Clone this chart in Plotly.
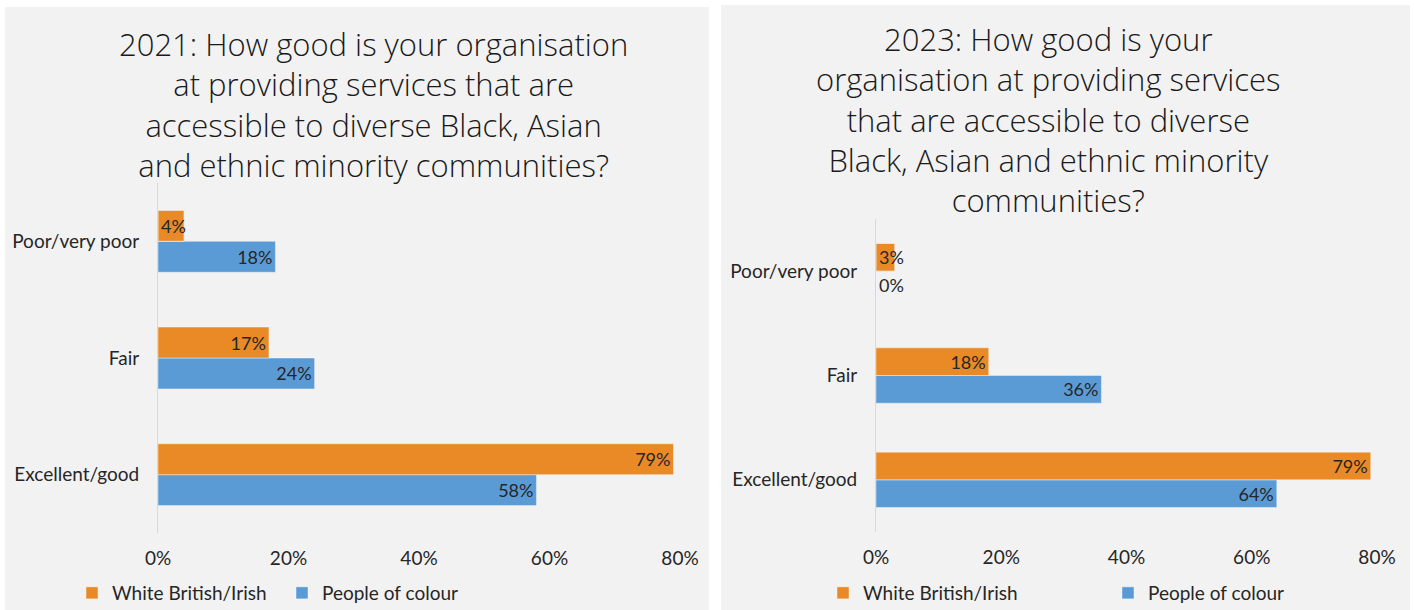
import plotly.graph_objects as go

# Response categories, bottom to top on the axis
categories = ["Excellent/good", "Fair", "Poor/very poor"]
tick_vals = [0, 20, 40, 60, 80]
tick_text = ["0%", "20%", "40%", "60%", "80%"]

# Survey results (% of respondents)
white_2021 = [79, 17, 4]
colour_2021 = [58, 24, 18]
white_2023 = [79, 18, 3]
colour_2023 = [64, 36, 0]

series_names = ["White British/Irish", "People of colour"]

title_2021 = ["2021: How good is your organisation",
              "at providing services that are",
              "accessible to diverse Black, Asian",
              "and ethnic minority communities?"]
title_2023 = ["2023: How good is your",
              "organisation at providing services",
              "that are accessible to diverse",
              "Black, Asian and ethnic minority",
              "communities?"]

W, H = 1414, 610
ORANGE = "#E98A26"
BLUE = "#5B9BD5"
PANEL = "#F2F2F2"
TXT = "#262626"
FONT = "Lato"
TITLE_FONT = "Open Sans"
SMALL = 10  # bars narrower than this get their label anchored at the bar start


def px(x):
    return x / W


def py(y):
    return (H - y) / H


fig = go.Figure()


def add_series(values, name, color, group, xaxis, yaxis, legend, rank):
    labels = [f"{v}%" for v in values]
    # main bars, labels at the inside end
    pos = ["inside" if v >= SMALL else "none" for v in values]
    fig.add_trace(go.Bar(
        x=values, y=categories, orientation="h", name=name,
        marker=dict(color=color, line=dict(color="rgba(255,255,255,0.5)", width=0.8)),
        text=labels, textposition=pos, insidetextanchor="end", textangle=0,
        textfont=dict(family=FONT, size=18, color=TXT), constraintext="none",
        offsetgroup=group, xaxis=xaxis, yaxis=yaxis, legend=legend,
        legendrank=rank, hoverinfo="skip", cliponaxis=False,
    ))
    # labels for the short bars, anchored at the bar start
    small_x = [v for v in values if v < SMALL]
    small_y = [c for v, c in zip(values, categories) if v < SMALL]
    if small_x:
        fig.add_trace(go.Bar(
            x=small_x, y=small_y, orientation="h", showlegend=False,
            marker=dict(color="rgba(0,0,0,0)"),
            text=[f"{v}%" for v in small_x],
            textposition=["outside" if v == 0 else "inside" for v in small_x],
            insidetextanchor="start", constraintext="none", textangle=0,
            textfont=dict(family=FONT, size=18, color=TXT),
            offsetgroup=group, xaxis=xaxis, yaxis=yaxis, hoverinfo="skip",
            cliponaxis=False,
        ))


add_series(colour_2021, series_names[1], BLUE, "a_colour", "x", "y", "legend", 2)
add_series(white_2021, series_names[0], ORANGE, "b_white", "x", "y", "legend", 1)
add_series(colour_2023, series_names[1], BLUE, "a_colour", "x2", "y2", "legend2", 2)
add_series(white_2023, series_names[0], ORANGE, "b_white", "x2", "y2", "legend2", 1)

xa = dict(range=[0, 80], tickvals=tick_vals, ticktext=tick_text, showgrid=False,
          zeroline=False, showline=False, ticks="", fixedrange=True, automargin=False,
          ticklabelstandoff=12, tickfont=dict(family=FONT, size=19, color=TXT))
ya = dict(categoryorder="array", categoryarray=categories, showgrid=False,
          showline=True, linecolor="#D9D9D9", linewidth=1, ticks="", automargin=False,
          ticklabelstandoff=14, tickfont=dict(family=FONT, size=19, color=TXT))

leg = dict(orientation="h", xanchor="left", yanchor="middle", y=py(593),
           bgcolor="rgba(0,0,0,0)", font=dict(family=FONT, size=19, color=TXT),
           entrywidthmode="pixels", itemwidth=30, borderwidth=0)

title_font = dict(family=TITLE_FONT, size=31, color="#1A1A1A", weight=300)
annotations = [
    dict(text="<br>".join(title_2021), xref="paper", yref="paper",
         x=px(374), y=py(104), xanchor="center", yanchor="middle",
         showarrow=False, align="center", font=title_font),
    dict(text="<br>".join(title_2023), xref="paper", yref="paper",
         x=px(1048), y=py(119), xanchor="center", yanchor="middle",
         showarrow=False, align="center", font=title_font),
]

fig.update_layout(
    width=W, height=H, margin=dict(l=0, r=0, t=0, b=0, autoexpand=False),
    paper_bgcolor="white", plot_bgcolor="rgba(0,0,0,0)",
    barmode="group", bargap=0.47, bargroupgap=0,
    xaxis=dict(xa, domain=[px(158), px(680)], anchor="y"),
    yaxis=dict(ya, domain=[py(533), py(183)], anchor="x"),
    xaxis2=dict(xa, domain=[px(876), px(1377)], anchor="y2"),
    yaxis2=dict(ya, domain=[py(532), py(219)], anchor="x2"),
    legend=dict(leg, x=px(72), entrywidth=165),
    legend2=dict(leg, x=px(823), entrywidth=240),
    shapes=[
        dict(type="rect", xref="paper", yref="paper", x0=px(5), x1=px(709),
             y0=0, y1=py(7), fillcolor=PANEL, line_width=0, layer="below"),
        dict(type="rect", xref="paper", yref="paper", x0=px(721), x1=px(1410),
             y0=0, y1=py(5), fillcolor=PANEL, line_width=0, layer="below"),
    ],
    annotations=annotations,
)

fig.write_html("out.html")
